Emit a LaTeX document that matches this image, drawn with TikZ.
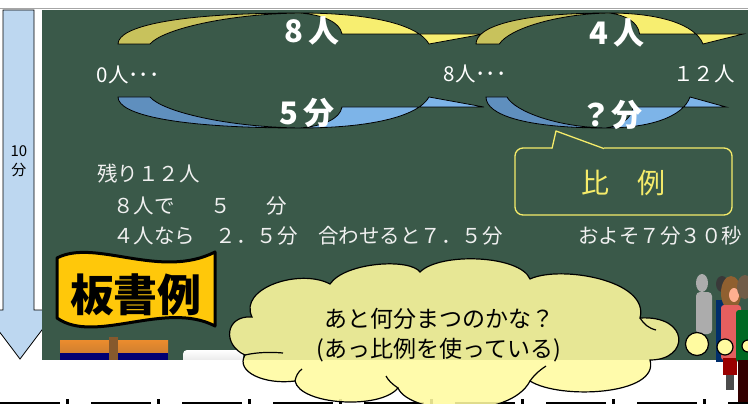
\documentclass[tikz,border=0pt]{standalone}
\usepackage{fontspec}
\setmainfont{Noto Sans CJK JP}
\usepackage{tikz}
\usetikzlibrary{positioning}
\definecolor{board}{RGB}{58,89,73}
\definecolor{chalkyel}{RGB}{245,236,106}
\definecolor{oliveback}{RGB}{200,194,92}
\definecolor{yelfront}{RGB}{247,238,112}
\definecolor{blueback}{RGB}{95,143,190}
\definecolor{bluefront}{RGB}{125,180,232}
\definecolor{timebar}{RGB}{189,215,240}
\definecolor{flagyel}{RGB}{255,200,10}
\definecolor{cloudyel}{RGB}{255,251,160}
\tikzset{
  chalk/.style={text=white, inner sep=0pt, font=\fontsize{20.5}{24}\selectfont},
  bigchalk/.style={text=white, inner sep=0pt, font=\fontsize{31}{32}\selectfont\bfseries},
  line/.style={anchor=west, text=white!94!black, inner sep=0pt, font=\fontsize{20.5}{24}\selectfont},
  bubble/.style={circle, draw=black, line width=1.2pt, fill=cloudyel, inner sep=0pt},
}

\begin{document}
\begin{tikzpicture}[x=1pt,y=-1pt]
\useasboundingbox (0,0) rectangle (748,404);
\clip (0,0) rectangle (748,404);
\fill[white] (0,0) rectangle (748,404);
\draw[gray!70, line width=1pt] (0,8.5) -- (748,8.5);

% ---------------- Time arrow ----------------
\filldraw[fill=timebar, draw=black, line width=0.8pt]
  (3,10) -- (34,10) -- (34,310) -- (57,310) -- (20,359) -- (-17,310) -- (3,310) -- cycle;
\node[align=center, inner sep=0pt, font=\fontsize{15}{19}\selectfont] (ten) at (19,161) {10\\分};

% ---------------- Blackboard ----------------
\fill[board] (42,10) rectangle (748,360);

% ---------- Swoop arrow ----------
% left x, base y, xscale, yscale, back colour, front colour
\def\swoop#1#2#3#4#5#6{
  \begin{scope}[shift={(#1,#2)}, xscale=#3, yscale=#4]
    \filldraw[fill=#5, draw=black, line width=0.8pt]
      (0,0) .. controls (0,-18) and (60,-31) .. (182,-31)
      .. controls (110,-30) and (45,-15) .. (32,0) -- cycle;
    \filldraw[fill=#6, draw=black, line width=0.8pt]
      (182,-31) .. controls (250,-31) and (300,-20) .. (311,0)
      -- (366,-10) -- (224,-10)
      .. controls (222,-22) and (205,-29) .. (182,-31) -- cycle;
  \end{scope}
}

% ---------- People (yellow) ----------
\swoop{118}{44}{1}{1}{oliveback}{yelfront}
\swoop{476}{44}{0.73}{1}{oliveback}{yelfront}

% ---------- Minutes (blue) ----------
\swoop{118}{97}{1}{-1}{blueback}{bluefront}
\swoop{486}{97}{0.656}{-1}{blueback}{bluefront}

\node[bigchalk] (men8) at (312,31) {8\hspace{0.18em}人};
\node[bigchalk] (men4) at (617,33) {4\hspace{0.18em}人};
\node[bigchalk] (min5) at (307,113) {5\hspace{0.18em}分};
\node[bigchalk] (minq) at (611,115) {？分};

\node[chalk] (zero) at (128,75) {0人･･･};
\node[chalk] (eight) at (475,74) {8人･･･};
\node[chalk] (twelve) at (704,74) {１２人};

% ---------------- Working ----------------
\node[line] (rest) at (97,174) {残り１２人};
\node[line] (rate) at (113,206) {８人で\hspace{1.75em}５\hspace{1.75em}分};
\node[line] (half) at (113,236) {４人なら　２．５分　合わせると７．５分};
\node[line] (about) at (578,236) {およそ７分３０秒};

% ---------------- Callout ----------------
\draw[chalkyel, line width=1.3pt, rounded corners=8pt]
  (552,148) -- (515,148) -- (515,215) -- (732,215) -- (732,148) -- (604,148);
\draw[chalkyel, line width=1.3pt, line join=round]
  (552,148.6) -- (556,131) -- (604,148.6);
\node[text=chalkyel, inner sep=0pt, font=\fontsize{28}{30}\selectfont] (ratio) at (623,183) {比　例};

% ---------------- Banner ----------------
\filldraw[fill=flagyel, draw=black, line width=3pt, line join=round]
  (57,258) .. controls (95,238) and (160,280) .. (215,252)
  -- (215,326) .. controls (165,300) and (95,345) .. (57,318) -- cycle;
\node[inner sep=0pt, font=\fontsize{44}{46}\selectfont\bfseries] (example) at (136,295) {板書例};

% ---------------- Eraser and chalk ----------------
\shade[top color=orange!65!brown!90, bottom color=brown!75!orange] (60,340) rectangle (168,353);
\fill[blue!45!black] (60,353) rectangle (168,360);
\fill[brown!70!black] (109,337) rectangle (118,360);
\shade[top color=white, bottom color=gray!25, rounded corners=4pt] (183,350) rectangle (243,366);
\fill[white] (42,360) rectangle (748,404);

% ---------------- Bottom strip ----------------
\foreach \k in {0,...,8}{
  \fill (\k*91,401.5) rectangle (\k*91+60,404);
  \fill (\k*91+66,398.5) rectangle (\k*91+69,404);
}

% ---------------- Waiting line ----------------
\fill[gray!65] (702,283) ellipse (6 and 9);
\fill[gray!65, rounded corners=4pt] (696,292) rectangle (712,334);
\fill[gray!45!black] (722,284) ellipse (6 and 8);
\fill[blue!40!teal!60!black] (716,300) rectangle (727,362);
\fill[brown!75!black] (731,293) ellipse (10 and 17);
\fill[orange!25!pink] (734,295) ellipse (5 and 7);
\fill[red!45!pink!90!black, rounded corners=3pt] (721,305) rectangle (741,360);
\fill[red!60!black] (723,358) rectangle (737,375);
\fill[black!70] (726,375) rectangle (734,390);
\fill[brown!40!black!80] (745,287) ellipse (8 and 12);
\fill[teal!50!green!55!black, rounded corners=3pt] (736,310) rectangle (752,362);
\fill[black!80!red] (738,360) rectangle (752,402);

% ---------------- Thought cloud ----------------
\filldraw[fill=cloudyel, fill opacity=0.88, draw=black, line width=1.2pt]
  (252,317) .. controls (238,288) and (300,268) .. (330,284)
  .. controls (345,262) and (410,258) .. (420,272)
  .. controls (440,252) and (520,255) .. (530,279)
  .. controls (560,265) and (650,280) .. (640,318)
  .. controls (690,315) and (690,360) .. (650,360)
  .. controls (660,395) and (560,400) .. (530,381)
  .. controls (510,420) and (410,415) .. (398,388)
  .. controls (380,410) and (300,405) .. (295,381)
  .. controls (265,385) and (235,372) .. (245,355)
  .. controls (222,345) and (225,315) .. (252,317) -- cycle;
% inner folds of the puffs
\draw[line width=1.2pt]
  (245,355) .. controls (258,352) and (272,352) .. (283,353)
  (640,318) .. controls (644,324) and (648,328) .. (656,330)
  (530,381) .. controls (535,374) and (540,370) .. (546,366)
  (295,381) .. controls (296,376) and (298,372) .. (302,369)
  (398,388) .. controls (392,384) and (388,380) .. (386,376);

\node[align=center, inner sep=0pt, font=\fontsize{23}{30}\selectfont] (wonder) at (439,335)
  {あと何分まつのかな？\\(あっ比例を使っている)};

\node[bubble, minimum size=23pt] (dot1) at (697,344) {};
\node[bubble, minimum size=16pt] (dot2) at (725,347) {};
\node[bubble, minimum size=12pt] (dot3) at (748,346) {};

\end{tikzpicture}
\end{document}
